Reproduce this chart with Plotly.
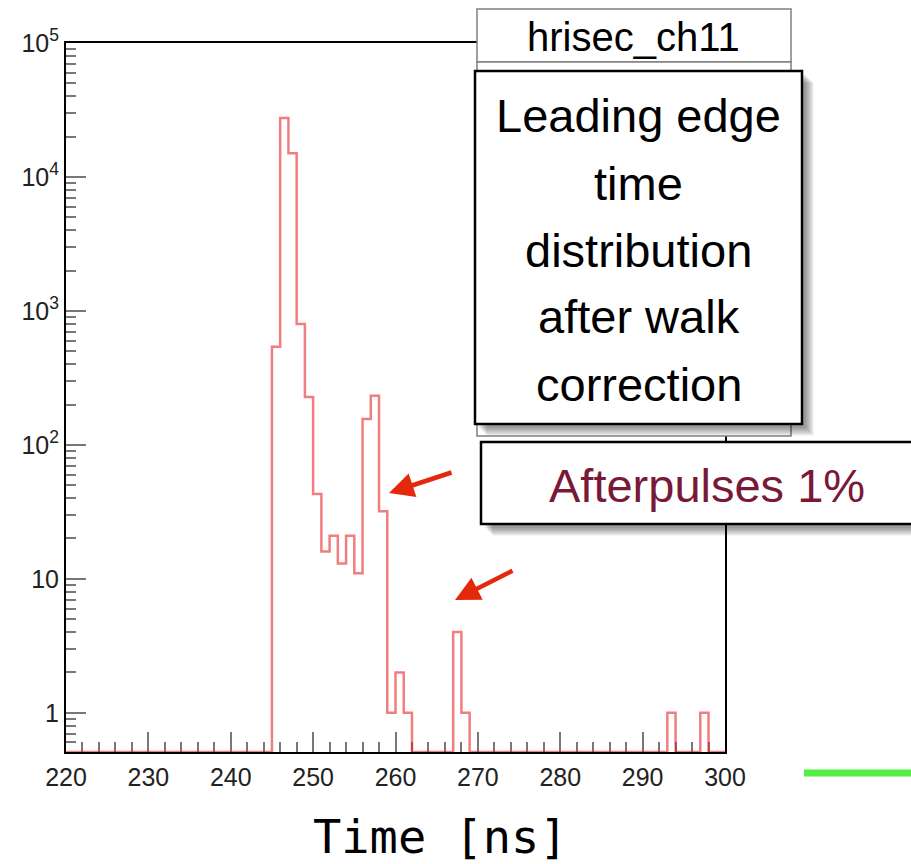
import plotly.graph_objects as go
import numpy as np

# ---------------- data ----------------
bin_low_edges = [245, 246, 247, 248, 249, 250, 251, 252, 253, 254, 255, 256, 257, 258, 259, 260, 261, 267, 268, 293, 297]
bin_counts = [540, 27500, 15000, 800, 228, 43, 16, 21, 13, 21, 11, 156, 233, 32, 1, 2, 1, 4, 1, 1, 1]
x_min, x_max, bin_width = 220, 300, 1
y_tick_vals = [1, 10, 100, 1000, 10000, 100000]
y_tick_text = ["1", "10", "10<sup>2</sup>", "10<sup>3</sup>", "10<sup>4</sup>", "10<sup>5</sup>"]
x_tick_vals = [220, 230, 240, 250, 260, 270, 280, 290, 300]
title_text = "hrisec_ch11"
box_lines = ["Leading edge", "time", "distribution", "after walk", "correction"]
afterpulse_text = "Afterpulses 1%"
x_title = "Time [ns]"

# ---------------- geometry ----------------
W, H = 911, 864
L, R, T, B = 66, 725, 43, 752
y_floor = 10 ** -0.293


def px(x):
    return (x - L) / (R - L)


def py(y):
    return (B - y) / (B - T)


# build step histogram
edges = np.arange(x_min, x_max + bin_width, bin_width)
counts = np.zeros(len(edges) - 1)
for e, c in zip(bin_low_edges, bin_counts):
    counts[int((e - x_min) / bin_width)] = c
yvals = np.where(counts > 0, counts, y_floor)
xs = list(edges)
ys = list(yvals) + [yvals[-1]]

fig = go.Figure()
fig.add_trace(go.Scatter(x=xs, y=ys, mode="lines", line=dict(color="rgba(232,40,40,0.6)", width=2.5, shape="hv"),
                         hoverinfo="skip", showlegend=False))

xtickfont = dict(family="Liberation Sans, Arial, sans-serif", size=25, color="#222")
ytickfont = dict(family="Liberation Sans, Arial, sans-serif", size=25, color="#222")
minor_y = [m * 10 ** e for e in range(-1, 5) for m in range(2, 10) if m * 10 ** e > y_floor]

fig.update_xaxes(range=[x_min, x_max], tickvals=x_tick_vals, ticks="inside", ticklen=20, tickwidth=1.5,
                 tickcolor="#777", showline=True, linecolor="black", linewidth=2, mirror=True,
                 showgrid=False, zeroline=False, tickfont=xtickfont, layer="below traces",
                 ticklabelstandoff=2,
                 minor=dict(dtick=2, ticks="inside", ticklen=10, tickwidth=1.5, tickcolor="#777", showgrid=False))
fig.update_yaxes(type="log", range=[-0.293, 5], tickvals=y_tick_vals, ticktext=y_tick_text, ticks="inside",
                 ticklen=20, tickwidth=1.5, tickcolor="#777", showline=True, linecolor="black", linewidth=2,
                 mirror=True, showgrid=False, zeroline=False, tickfont=ytickfont, layer="below traces",
                 minor=dict(tickvals=minor_y, ticks="inside", ticklen=10, tickwidth=1.5, tickcolor="#777",
                            showgrid=False))

shapes = []
annotations = []


def rect(x0, y0, x1, y1, line_color="black", lw=2, fill="white"):
    shapes.append(dict(type="rect", xref="paper", yref="paper", x0=px(x0), x1=px(x1), y0=py(y1), y1=py(y0),
                       line=dict(color=line_color, width=lw), fillcolor=fill, layer="above"))


def shadow(x0, y0, x1, y1, off=4, steps=6):
    for i in range(steps):
        d = off + i * 1.5
        shapes.append(dict(type="rect", xref="paper", yref="paper", x0=px(x0 + d), x1=px(x1 + d),
                           y0=py(y1 + d), y1=py(y0 + d), line=dict(width=0),
                           fillcolor="rgba(0,0,0,0.08)", layer="above"))


# title box and stats box (grey)
rect(477, 9, 791, 62, line_color="#808080", lw=1.5)
rect(477, 62, 791, 436, line_color="#808080", lw=1.5)
# main text box
shadow(475, 71, 802, 424)
rect(475, 71, 802, 424, line_color="black", lw=2.5)
# afterpulses box
shadow(481, 442, 930, 524, off=4)
rect(481, 442, 930, 524, line_color="black", lw=2.5)
# green line
shapes.append(dict(type="line", xref="paper", yref="paper", x0=px(804), x1=px(920), y0=py(773), y1=py(773),
                   line=dict(color="#52f040", width=7), layer="above"))

fig.update_layout(shapes=shapes)

font = "Liberation Sans, Arial, Helvetica, sans-serif"
annotations.append(dict(xref="paper", yref="paper", x=px(633), y=py(37), text=title_text, showarrow=False,
                        font=dict(family=font, size=40, color="black"), xanchor="center", yanchor="middle"))
for i, line in enumerate(box_lines):
    annotations.append(dict(xref="paper", yref="paper", x=px(638.5), y=py(116 + 67 * i), text=line,
                            showarrow=False, font=dict(family=font, size=47, color="black"),
                            xanchor="center", yanchor="middle"))
annotations.append(dict(xref="paper", yref="paper", x=px(707), y=py(486), text=afterpulse_text, showarrow=False,
                        font=dict(family=font, size=47, color="#7a1838"), xanchor="center", yanchor="middle"))
annotations.append(dict(xref="paper", yref="paper", x=px(440), y=py(836), text=x_title, showarrow=False,
                        font=dict(family="DejaVu Sans Mono, monospace", size=47, color="black"),
                        xanchor="center", yanchor="middle"))
# arrows
for (hx, hy, tx, ty) in [(389, 493, 453, 472), (455, 600, 514, 570)]:
    annotations.append(dict(xref="paper", yref="paper", x=px(hx), y=py(hy), ax=tx - hx, ay=ty - hy,
                            axref="pixel", ayref="pixel", text="", showarrow=True, arrowhead=2,
                            arrowsize=1.1, arrowwidth=4.5, arrowcolor="#e3280c", standoff=0))

fig.update_layout(annotations=annotations, width=W, height=H, margin=dict(l=L, r=W - R, t=T, b=H - B),
                  plot_bgcolor="white", paper_bgcolor="white")

fig.write_html("out.html", config={"displayModeBar": False})
